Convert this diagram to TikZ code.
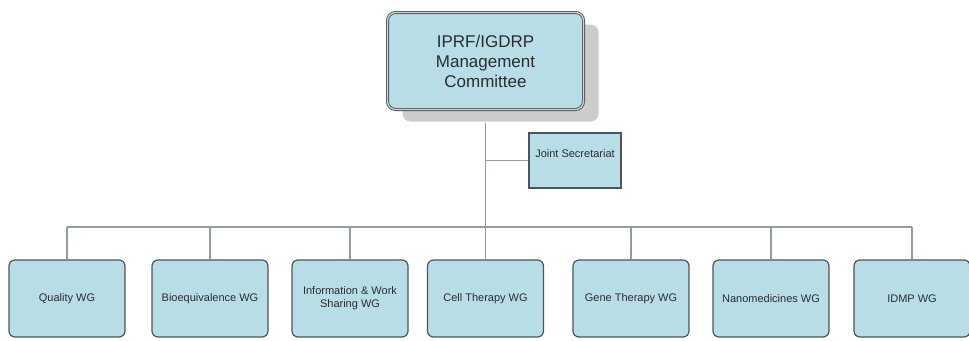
\documentclass[tikz,border=0pt]{standalone}
\usepackage{fontspec}
\setmainfont{Liberation Sans}
\usetikzlibrary{shadows}
\definecolor{boxblue}{RGB}{185,221,231}
\definecolor{boxline}{RGB}{75,85,90}
\definecolor{linkgray}{RGB}{145,155,160}
\definecolor{txtgray}{RGB}{40,45,48}

\begin{document}
\begin{tikzpicture}[x=1pt,y=-1pt,
    wgbox/.style={draw=boxline,line width=1.2pt,fill=boxblue,rounded corners=6pt,
      minimum width=116pt,minimum height=77pt,align=center,
      font=\fontsize{11}{13}\selectfont,text=txtgray},
    link/.style={draw=linkgray,line width=1.1pt}]
  \useasboundingbox (0,0) rectangle (969,340);

  % management committee, double border and shadow
  \node[draw=boxline,line width=0.9pt,double=gray!35,double distance=1.2pt,
    fill=boxblue,rounded corners=8pt,minimum width=196pt,minimum height=97pt,
    align=center,font=\fontsize{17}{20}\selectfont,text=txtgray,
    drop shadow={shadow xshift=15pt,shadow yshift=-12pt,fill=gray!40,opacity=1}]
    (mc) at (485.5,61) {IPRF/IGDRP\\Management\\Committee};

  % joint secretariat, text sits in the upper part
  \node[draw=boxline,line width=1.2pt,fill=boxblue,minimum width=92pt,
    inner ysep=0pt,text height=24pt,text depth=31pt,
    font=\fontsize{11}{13}\selectfont,text=txtgray]
    (js) at (575,160.5) {Joint Secretariat};

  \coordinate (bus) at (485.5,227);
  \draw[link] ([yshift=-13pt]mc.south) -- (bus);
  \draw[link] (js.west) -- (js.west -| mc.south);

  % working groups
  \foreach \x/\name/\txt in {67/q/Quality WG,210/be/Bioequivalence WG,
      350/iws/{Information \& Work\\Sharing WG},485.5/ct/Cell Therapy WG,
      631/gt/Gene Therapy WG,771/nm/Nanomedicines WG,912/idmp/IDMP WG}{
    \node[wgbox] (\name) at (\x,298.5) {\txt};
    \draw[link] (\name.north) -- (\name.north |- bus);
  }
  \draw[link] (q.north |- bus) -- (idmp.north |- bus);
\end{tikzpicture}
\end{document}
